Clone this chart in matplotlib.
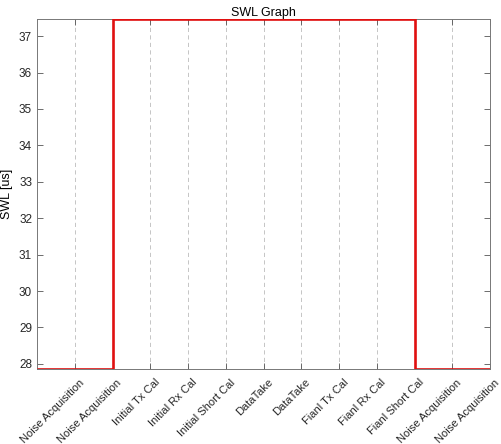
import matplotlib
matplotlib.use("Agg")
import matplotlib.pyplot as plt
import matplotlib.transforms as mtransforms
import numpy as np

plt.rcParams['font.family'] = ['Liberation Sans', 'DejaVu Sans']

categories = ["Noise Acquisition", "Noise Acquisition", "Initial Tx Cal", "Initial Rx Cal",
              "Initial Short Cal", "DataTake", "DataTake", "Fianl Tx Cal", "Fianl Rx Cal",
              "Fianl Short Cal", "Noise Acquisition", "Noise Acquisition"]
swl_values = [27.86, 27.86, 37.47, 37.47, 37.47, 37.47, 37.47, 37.47, 37.47, 37.47, 27.86, 27.86]
yticks = [28, 29, 30, 31, 32, 33, 34, 35, 36, 37]

fig = plt.figure(figsize=(5.01, 4.44), dpi=100)
ax = fig.add_axes([37/501, 1-369/444, (490-37)/501, (369-19)/444])

edges = np.arange(len(swl_values) + 1)
ax.stairs(swl_values, edges, color='#e01010', linewidth=1.9, baseline=None, zorder=3)

ax.set_xlim(0, len(categories))
ax.set_ylim(min(swl_values), max(swl_values))
ax.set_xticks(np.arange(1, len(categories) + 1))
ax.set_xticklabels(categories, rotation=45, ha='right', rotation_mode='anchor', fontsize=8,
                   color='#262626')
ax.set_yticks(yticks)
ax.tick_params(axis='both', direction='in', top=True, right=True, length=4, width=0.6,
               color='#555555', labelsize=8.5, labelcolor='#262626')
ax.tick_params(axis='x', labelsize=8, pad=6)
offset = mtransforms.ScaledTranslation(4/100, 0, fig.dpi_scale_trans)
for lbl in ax.get_xticklabels():
    lbl.set_transform(lbl.get_transform() + offset)
ax.grid(axis='x', linestyle=(0, (5, 4)), color='#bbbbbb', linewidth=0.6)
for s in ax.spines.values():
    s.set_color('#777777')
    s.set_linewidth(0.7)
ax.set_ylabel('SWL [us]', fontsize=9)
ax.set_title('SWL Graph', fontsize=9, pad=2)

fig.savefig('out.png', dpi=100)
